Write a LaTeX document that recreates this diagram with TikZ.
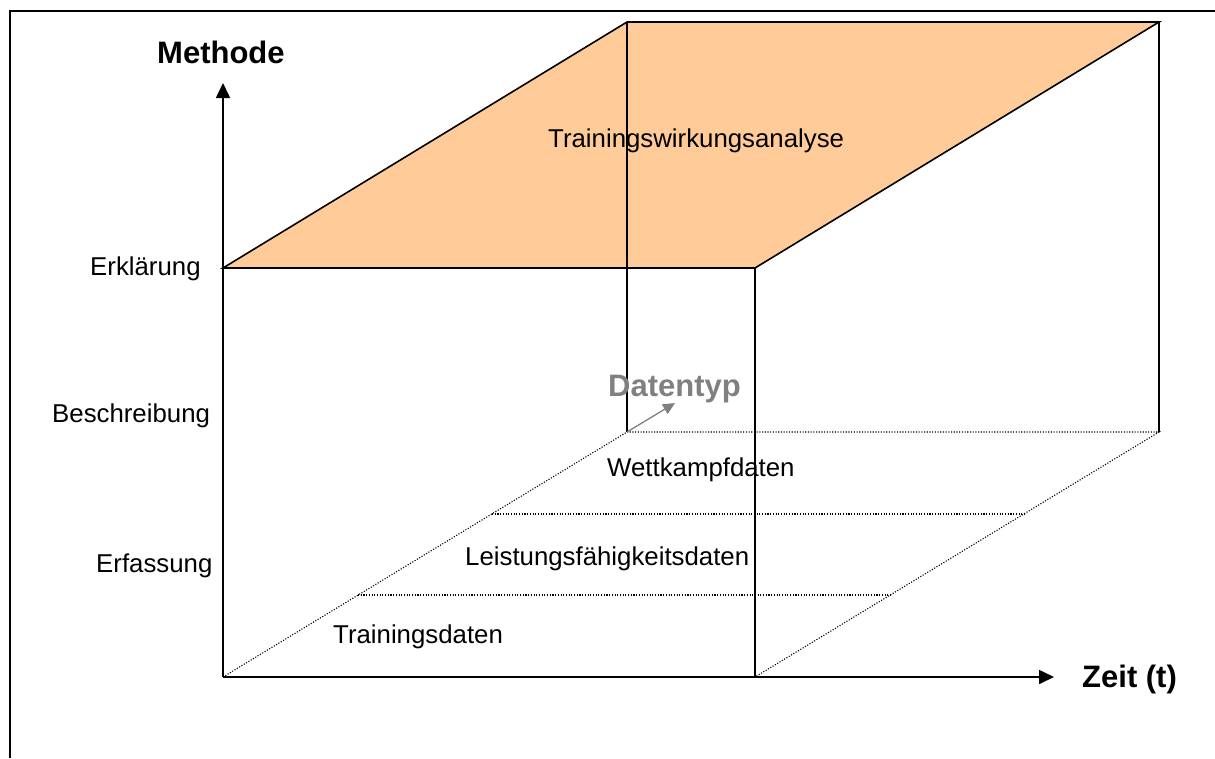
\documentclass[tikz,border=0pt]{standalone}
\usepackage{fontspec}
\setmainfont{Liberation Sans}
\usetikzlibrary{arrows.meta}
\definecolor{topface}{HTML}{FFCC99}
\definecolor{typegray}{HTML}{808080}

\begin{document}
\begin{tikzpicture}[x=1pt,y=-1pt,
  edge/.style={line width=1.6pt, line join=miter},
  guide/.style={line width=1.1pt, dash pattern=on 1.1pt off 1.6pt},
  lbl/.style={anchor=base west, inner sep=0pt, font=\fontsize{25.8}{30}\selectfont},
  axlbl/.style={anchor=base west, inner sep=0pt, font=\fontsize{31}{36}\selectfont\bfseries},
  axisarrow/.style={line width=1.6pt, -{Triangle[length=15pt,width=14pt]}}]
  \useasboundingbox (0,0) rectangle (1215,758);

  % frame (top and left edges)
  \draw[line width=1.8pt] (10,758) -- (10,11) -- (1215,11);

  % corners of the cube
  \coordinate (fbl) at (223,677);
  \coordinate (fbr) at (755,677);
  \coordinate (ftl) at (223,268);
  \coordinate (ftr) at (755,268);
  \coordinate (bbl) at (627,432);
  \coordinate (bbr) at (1159,432);
  \coordinate (btl) at (627,22);
  \coordinate (btr) at (1159,22);
  % ends of the axes
  \coordinate (ytip) at (223,83);
  \coordinate (xtip) at (1054,677);
  \coordinate (ztip) at (675,403);
  % dotted layer borders on the floor
  \coordinate (l1a) at (358,595);
  \coordinate (l1b) at (890,595);
  \coordinate (l2a) at (492,514);
  \coordinate (l2b) at (1024,514);

  % floor (dotted)
  \draw[guide] (fbl) -- (bbl) -- (bbr) -- (fbr);
  \draw[guide] (l1a) -- (l1b);
  \draw[guide] (l2a) -- (l2b);

  % top face
  \draw[edge, fill=topface] (ftl) -- (btl) -- (btr) -- (ftr) -- cycle;

  % vertical edges
  \draw[edge] (btl) -- (bbl);
  \draw[edge] (btr) -- (bbr);
  \draw[edge] (ftr) -- (fbr);

  % axes
  \draw[axisarrow] (fbl) -- (ytip);
  \draw[axisarrow] (fbl) -- (xtip);
  \draw[line width=1.3pt, typegray, -{Triangle[length=12pt,width=11pt]}] (bbl) -- (ztip);

  % axis titles
  \node[axlbl] (methode) at (157,63) {Methode};
  \node[axlbl] (zeit) at (1082,687) {Zeit (t)};
  \node[axlbl, text=typegray] (datentyp) at (608,396) {Datentyp};

  % method levels
  \node[lbl] (erkl) at (90,275) {Erklärung};
  \node[lbl] (beschr) at (52,422) {Beschreibung};
  \node[lbl] (erf) at (96,572) {Erfassung};

  % areas
  \node[lbl] (twa) at (548,147) {Trainingswirkungsanalyse};
  \node[lbl] (wk) at (607,476) {Wettkampfdaten};
  \node[lbl] (lf) at (465,565) {Leistungsfähigkeitsdaten};
  \node[lbl] (td) at (333,643) {Trainingsdaten};
\end{tikzpicture}
\end{document}
